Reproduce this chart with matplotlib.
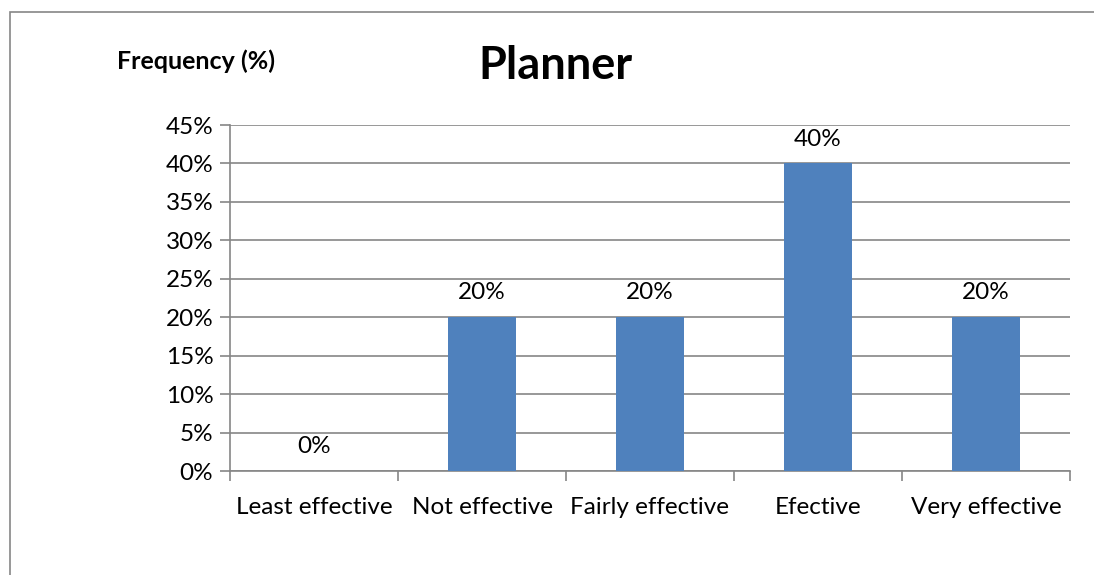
import matplotlib.pyplot as plt
from matplotlib.patches import Rectangle
from matplotlib.ticker import MultipleLocator, PercentFormatter, FixedLocator, NullFormatter

plt.rcParams["font.family"] = ["Lato", "DejaVu Sans"]

categories = ["Least effective", "Not effective", "Fairly effective", "Efective", "Very effective"]
values = [0, 20, 20, 40, 20]

BAR_COLOR = "#4F81BD"
GRID_COLOR = "#868686"

W, H, DPI = 1094, 575, 100
fig = plt.figure(figsize=(W / DPI, H / DPI), dpi=DPI)

# chart area border (cropped at right and bottom)
fig.patches.append(Rectangle((10 / W, -0.1), 1.2, (H - 12) / H + 0.1,
                             transform=fig.transFigure, fill=False,
                             edgecolor=GRID_COLOR, linewidth=1.2))

left, right, top, bottom = 230, 1070, 125, 471
ax = fig.add_axes([left / W, 1 - bottom / H, (right - left) / W, (bottom - top) / H])

x = list(range(len(categories)))
ax.bar(x, values, width=0.4, color=BAR_COLOR, zorder=3)

for xi, v in zip(x, values):
    ax.annotate(f"{v}%", (xi, v), xytext=(0, 17.5), textcoords="offset points",
                ha="center", va="center", fontsize=17.5)

ax.set_xlim(-0.5, len(categories) - 0.5)
ax.set_ylim(0, 45)
ax.yaxis.set_major_locator(MultipleLocator(5))
ax.yaxis.set_major_formatter(PercentFormatter(decimals=0))
ax.grid(axis="y", color=GRID_COLOR, linewidth=1.2, zorder=0)

ax.set_xticks(x)
ax.set_xticklabels(categories)
ax.xaxis.set_minor_locator(FixedLocator([i - 0.5 for i in range(len(categories) + 1)]))
ax.xaxis.set_minor_formatter(NullFormatter())
ax.tick_params(axis="x", which="major", length=0, pad=19, labelsize=17.5)
ax.tick_params(axis="x", which="minor", length=7, width=1.2, color=GRID_COLOR)
ax.tick_params(axis="y", length=7, width=1.2, color=GRID_COLOR, labelsize=17.5, pad=5)

for side in ["top", "right"]:
    ax.spines[side].set_visible(False)
for side in ["left", "bottom"]:
    ax.spines[side].set_color(GRID_COLOR)
    ax.spines[side].set_linewidth(1.2)

fig.text(555 / W, 1 - 66 / H, "Planner", ha="center", va="center",
         fontsize=32.5, fontweight="bold")
fig.text(196 / W, 1 - 61 / H, "Frequency (%)", ha="center", va="center",
         fontsize=18, fontweight="bold")

fig.savefig("out.png", dpi=DPI)
